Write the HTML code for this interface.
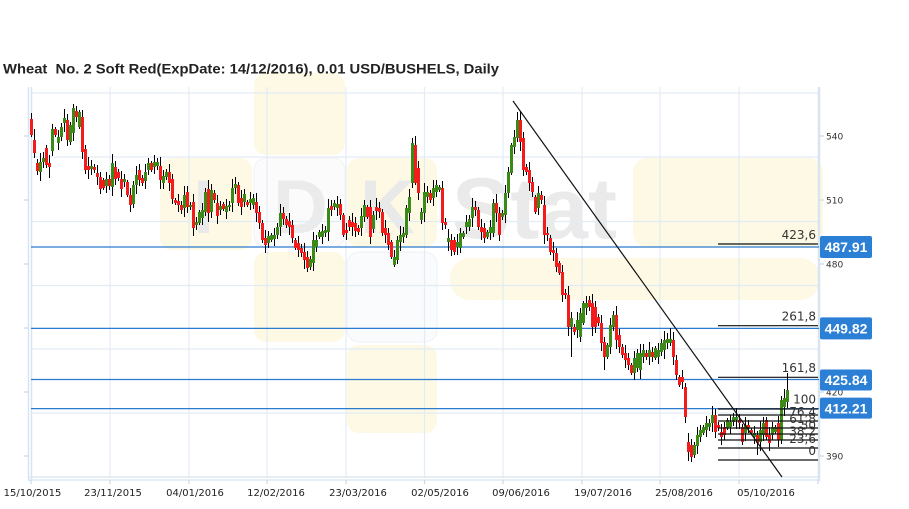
<!DOCTYPE html>
<html><head><meta charset="utf-8"><style>
html,body{margin:0;padding:0;background:#fff;}
svg{display:block;}
</style></head><body>
<svg width="909" height="509" viewBox="0 0 909 509">
<rect width="909" height="509" fill="#fff"/>
<!-- watermark -->
<g>
<rect x="254" y="73" width="91" height="82" rx="12" fill="#fdf9e4"/>
<rect x="160" y="158" width="92" height="92" rx="12" fill="#fdf9e4"/>
<rect x="254" y="158" width="91" height="89" rx="12" fill="#fbfbfb" stroke="#f2f2f2"/>
<rect x="347" y="158" width="90" height="89" rx="12" fill="#fdf9e4"/>
<rect x="633" y="158" width="190" height="89" rx="14" fill="#fdf9e4"/>
<rect x="254" y="252" width="91" height="90" rx="12" fill="#fdf9e4"/>
<rect x="347" y="252" width="90" height="90" rx="12" fill="#f9fbfd" stroke="#eef3f8"/>
<rect x="450" y="258" width="370" height="42" rx="20" fill="#fdf9e4"/>
<rect x="347" y="345" width="90" height="88" rx="12" fill="#fdf9e4"/>
<text x="193" y="233" font-family="Liberation Sans, sans-serif" font-weight="bold" font-size="76" fill="#e9e9e9">I</text>
<text x="273" y="233" font-family="Liberation Sans, sans-serif" font-weight="bold" font-size="76" fill="#ebebeb">D</text>
<text x="360" y="233" font-family="Liberation Sans, sans-serif" font-weight="bold" font-size="76" fill="#e9e9e9">K</text>
<text x="452" y="238" font-family="Liberation Sans, sans-serif" font-weight="bold" font-size="86" fill="#eaeaea" textLength="165" lengthAdjust="spacingAndGlyphs">Stat</text>
</g>
<!-- grid -->
<g stroke="#e2ecf5" stroke-width="1.2">
<line x1="31" x2="818" y1="93" y2="93"/>
<line x1="31" x2="818" y1="157" y2="157"/>
<line x1="31" x2="818" y1="221.5" y2="221.5"/>
<line x1="31" x2="818" y1="285.5" y2="285.5"/>
<line x1="31" x2="818" y1="349" y2="349"/>
<line x1="31" x2="818" y1="413" y2="413"/>
<line x1="110" x2="110" y1="87" y2="478"/>
<line x1="189" x2="189" y1="87" y2="478"/>
<line x1="267" x2="267" y1="87" y2="478"/>
<line x1="346" x2="346" y1="87" y2="478"/>
<line x1="424.5" x2="424.5" y1="87" y2="478"/>
<line x1="503" x2="503" y1="87" y2="478"/>
<line x1="582" x2="582" y1="87" y2="478"/>
<line x1="660" x2="660" y1="87" y2="478"/>
<line x1="739" x2="739" y1="87" y2="478"/>
</g>
<!-- axes -->
<g stroke="#d8e5f1">
<line x1="28.5" x2="28.5" y1="87" y2="481" stroke-width="1.5"/>
<line x1="31.5" x2="31.5" y1="87" y2="481" stroke-width="1.5"/>
<line x1="819" x2="819" y1="87" y2="481" stroke-width="2.5"/>
<line x1="28" x2="820" y1="477" y2="477" stroke-width="1.3"/>
<line x1="28" x2="820" y1="480" y2="480" stroke-width="1.3"/>
</g>
<g stroke="#c9d8e6" stroke-width="1.2">
<line x1="24" x2="28" y1="136" y2="136"/><line x1="24" x2="28" y1="200" y2="200"/>
<line x1="24" x2="28" y1="264" y2="264"/><line x1="24" x2="28" y1="328" y2="328"/>
<line x1="24" x2="28" y1="392" y2="392"/><line x1="24" x2="28" y1="456" y2="456"/>
<line x1="820" x2="824" y1="136" y2="136"/><line x1="820" x2="824" y1="200" y2="200"/>
<line x1="820" x2="824" y1="264" y2="264"/><line x1="820" x2="824" y1="392" y2="392"/>
<line x1="820" x2="824" y1="456" y2="456"/>
<line x1="31" x2="31" y1="480" y2="484"/><line x1="110" x2="110" y1="480" y2="484"/>
<line x1="189" x2="189" y1="480" y2="484"/><line x1="267" x2="267" y1="480" y2="484"/>
<line x1="346" x2="346" y1="480" y2="484"/><line x1="424.5" x2="424.5" y1="480" y2="484"/>
<line x1="503" x2="503" y1="480" y2="484"/><line x1="582" x2="582" y1="480" y2="484"/>
<line x1="660" x2="660" y1="480" y2="484"/><line x1="739" x2="739" y1="480" y2="484"/>
<line x1="818" x2="818" y1="480" y2="484"/>
</g>
<!-- blue levels -->
<g stroke="#2a7bd0" stroke-width="1.3">
<line x1="31" x2="819" y1="247" y2="247"/>
<line x1="31" x2="819" y1="328.4" y2="328.4"/>
<line x1="31" x2="819" y1="379.5" y2="379.5"/>
<line x1="31" x2="819" y1="408.6" y2="408.6"/>
</g>
<!-- candles -->
<g id="c"></g>
<!-- fib lines -->
<g stroke="#111" stroke-width="1.2">
<line x1="718" x2="818" y1="244" y2="244"/>
<line x1="718" x2="818" y1="325.7" y2="325.7"/>
<line x1="718" x2="818" y1="377.3" y2="377.3"/>
<line x1="718" x2="818" y1="409" y2="409"/>
<line x1="718" x2="818" y1="415" y2="415"/>
<line x1="718" x2="818" y1="421" y2="421"/>
<line x1="718" x2="818" y1="428" y2="428"/>
<line x1="718" x2="818" y1="434" y2="434"/>
<line x1="718" x2="818" y1="440" y2="440"/>
<line x1="718" x2="818" y1="448" y2="448"/>
<line x1="718" x2="818" y1="460" y2="460"/>
</g>
<line x1="513" y1="101" x2="782" y2="477" stroke="#111" stroke-width="1.2"/>
<g font-family="DejaVu Sans, sans-serif" font-size="12" fill="#333" text-anchor="end">
<text x="816" y="239">423,6</text>
<text x="816" y="320.5">261,8</text>
<text x="816" y="372">161,8</text>
<text x="816" y="403.5">100</text>
<text x="816" y="416">76,4</text>
<text x="816" y="423">61,8</text>
<text x="816" y="429.5">50</text>
<text x="816" y="435.5">38,2</text>
<text x="816" y="443">23,6</text>
<text x="816" y="455">0</text>
</g>
<!-- right axis labels -->
<g font-family="DejaVu Sans, sans-serif" font-size="9" fill="#333">
<text x="826" y="139.5">540</text>
<text x="826" y="203.5">510</text>
<text x="826" y="267.5">480</text>
<text x="826" y="331.5">450</text>
<text x="826" y="395.5">420</text>
<text x="826" y="459.5">390</text>
</g>
<!-- value boxes -->
<g>
<rect x="820" y="236" width="52" height="22" rx="2" fill="#2b7fd5"/>
<rect x="820" y="317.4" width="52" height="22" rx="2" fill="#2b7fd5"/>
<rect x="820" y="369.5" width="52" height="21" rx="2" fill="#2b7fd5"/>
<rect x="820" y="397.6" width="52" height="21" rx="2" fill="#2b7fd5"/>
</g>
<g font-family="Liberation Sans, sans-serif" font-weight="bold" font-size="14" fill="#fff" text-anchor="middle">
<text x="846" y="252">487.91</text>
<text x="846" y="333.4">449.82</text>
<text x="846" y="385">425.84</text>
<text x="846" y="413.6">412.21</text>
</g>
<!-- date labels -->
<g font-family="DejaVu Sans, sans-serif" font-size="10" fill="#222" text-anchor="middle">
<text x="32.5" y="496">15/10/2015</text>
<text x="113" y="496">23/11/2015</text>
<text x="195" y="496">04/01/2016</text>
<text x="276" y="496">12/02/2016</text>
<text x="358" y="496">23/03/2016</text>
<text x="440" y="496">02/05/2016</text>
<text x="521" y="496">09/06/2016</text>
<text x="603" y="496">19/07/2016</text>
<text x="684" y="496">25/08/2016</text>
<text x="766" y="496">05/10/2016</text>
</g>
<!-- title -->
<text x="3" y="73.5" font-family="Liberation Sans, sans-serif" font-weight="bold" font-size="13.6" fill="#222" textLength="496" lengthAdjust="spacingAndGlyphs">Wheat&#160; No. 2 Soft Red(ExpDate: 14/12/2016), 0.01 USD/BUSHELS, Daily</text>
</svg>
<script>
var D=[
[119,135,0,113],[140,153,0,129,158],[163,171,0],[162,172,1],[158,162,1],[148,165,0],[163,167,0,0,178],[129,151,1],[129,135,0],[137,143,1],
[127,137,1],[118,123,1],[120,140,0],[125,142,1],[108,133,1,104],[111,117,0],[112,127,1],[117,152,0],[149,170,0],[166,170,0],
[166,169,1],[167,170,0],[173,177,0],[177,189,0],[180,188,0],[179,186,1],[179,186,0],[163,187,1],[167,179,0],[172,178,0],
[179,189,0],[179,182,1],[182,195,0],[195,205,0],[185,204,1],[175,185,1],[170,180,0],[178,183,0],[172,181,1],[163,170,1],
[163,170,0],[162,167,1],[162,166,1],[166,180,0],[176,183,1],[172,177,1],[172,183,0],[179,199,0],[200,203,0],[201,205,0],
[205,210,0],[195,208,1],[192,207,0],[205,207,1],[202,228,0],[222,225,1],[212,223,1],[210,218,1],[192,212,1],[189,213,0],
[190,212,1],[193,200,0],[203,216,0],[206,210,1],[204,209,0],[206,212,1],[205,207,1],[188,203,1],[184,188,1,177],[185,203,0],
[198,207,0],[194,202,1],[202,205,0],[199,203,1],[198,205,1],[202,213,0],
[212,223,0],[223,240,0],[238,245,0],[236,243,1],[235,240,1],[235,239,1],[227,235,1],[213,227,1],[213,219,0],[219,225,0],
[221,227,0],[225,238,0],[240,248,0],[243,250,0],[248,253,0],[252,260,0],[257,268,0,0,272],[259,267,1],[240,263,1],[240,247,1],
[232,237,1],[231,237,1],[230,233,1],[208,232,1],[206,210,0],[203,207,1],[204,208,1],[204,215,0],[215,235,0],[230,233,0],
[220,227,0],[222,227,0],[223,231,0],[228,232,0],[216,228,1],[205,217,1],[207,217,0],[207,237,0],[215,229,1],[207,211,0],
[208,212,0],[212,233,0],[228,235,0],[233,245,0],[242,257,0],[257,265,1,0,267],[240,260,1],[235,242,1],[233,237,1],[208,235,1],
[197,213,1],[143,183,1],[145,183,0,136],[168,193,0],[212,220,1],[192,213,1],[192,197,1],[193,200,0],[188,198,1],[185,192,1],
[187,190,1],[188,223,0],[222,225,0],[238,242,1],[240,250,0],[240,252,0],[242,247,1],[233,248,1],[233,237,1],[222,227,1],
[219,227,1],[207,218,1],[207,210,0],[210,227,0],[227,232,0],[228,238,0],[232,237,1],[227,233,1],[203,233,1],[203,213,0],
[213,235,0],[213,217,1],[193,215,1],[172,193,1],[145,173,1],[137,147,1],[120,138,1,112],[120,142,0],[138,170,0],[167,172,0],
[170,183,0],[182,192,0],[197,212,0],[193,208,1],[195,200,0],[205,235,0],[233,235,0],[238,252,0],[250,253,0],[253,267,0],
[263,273,0],[272,295,0],[293,295,0],[295,327,0],[318,327,1,0,357],[327,332,0],[320,330,1],[313,337,1],[303,323,1],[303,308,1],
[300,307,0],[303,327,0],[307,327,0],[317,323,0],[323,343,0],[342,357,0,0,370],[345,357,1],[325,347,1],[315,327,1],[315,340,0],
[335,347,0],[347,355,0],[353,360,0],[358,365,0],[365,373,0],[358,373,1],[353,368,1],[353,370,1],[350,357,1],[353,357,0],
[350,357,1],[352,357,0],[348,358,1],
[350,357,1],[343,352,1],[340,350,1],[339,343,1],[339,343,1,328],[340,357,0],[360,375,0],[377,385,0],[377,382,0],[387,417,0,0,423],
[442,452,0],[445,457,0,0,462],[445,455,1],[435,446,1],[430,437,1],[427,433,1],[423,430,1],[423,427,1],[415,423,1],[415,432,0],
[425,428,0],[432,437,0],[427,435,0],[420,428,1],[422,427,1],[417,422,1],[417,420,1],[420,423,0],[427,442,0],[425,433,1],
[425,428,0],[430,433,0],[433,437,1],[435,443,0,0,455],[430,442,1],[423,435,1],[420,437,0],[435,443,0],[427,435,1],[427,432,1],
[423,440,0],[400,440,1],[398,407,1],[390,402,1,373]
];
var h='';
for(var i=0;i<D.length;i++){
 var d=D[i],x=31.5+i*3,t=d[0],b=d[1],c=d[2];
 if(b-t<1)b=t+1;
 var hi=d[3]?d[3]:t-(2+(i*37)%8);
 var lo=d[4]?d[4]:b+(2+(i*53)%8);
 h+='<line x1="'+x+'" x2="'+x+'" y1="'+hi+'" y2="'+lo+'" stroke="#000" stroke-width="1"/>';
 h+='<rect x="'+(x-1.5)+'" y="'+t+'" width="3" height="'+(b-t)+'" fill="'+(c?'#3b8a18':'#f21c1c')+'"/>';
}
document.getElementById('c').innerHTML=h;
</script>
</body></html>
